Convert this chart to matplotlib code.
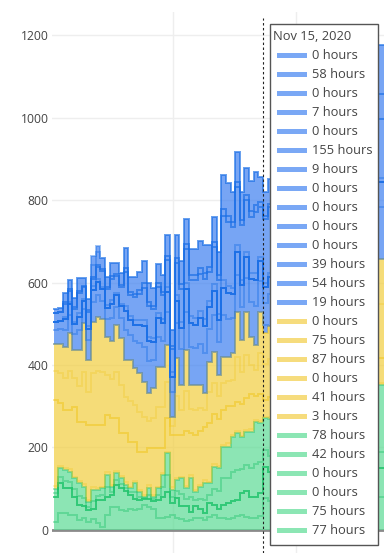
import numpy as np
import matplotlib
matplotlib.use("Agg")
import matplotlib.pyplot as plt
from matplotlib.patches import Rectangle

plt.rcParams['font.family'] = ['Open Sans', 'DejaVu Sans']

# ---------------- data (daily values, hours) ----------------
hover_index = 45
hover_label = "Nov 15, 2020"
y_ticks = [0, 200, 400, 600, 800, 1000, 1200]

# blue group (tooltip order, top of stack first)
b1 = [0,0,0,0,0,0,0,0,22,15, 0,0,0,0,0,0,0,0,0,0, 0,0,0,0,0,0,0,0,0,0, 0,0,0,0,0,0,0,0,0,0, 0,0,0,0,0,0,0,0,0,0, 0,0,0,0,0,0,0,0,0,0, 0,0,0,0,0,0,0,0,0,0, 0]
b2 = [10,10,22,22,22,30,18,26,28,30,26,24,32,26,28,48,36,40,44,54,48,42,46,40,50,38,56,56,60,62,62,66,68,54,62,56,84,80,74,72,68,66,72,80,62,58,
      60,66,58,72,64,70,76,68,74,80,72,84,78,86,82,90,86,94,88,96,92,100,96,120,120]
b3 = [0,0,0,0,0,0,0,0,0,0, 0,0,0,0,0,0,0,0,0,0, 0,0,0,0,0,0,0,0,0,0, 0,0,0,0,0,0,0,0,0,0, 0,0,0,0,0,0,0,0,0,0, 0,0,0,0,0,0,0,0,0,0, 0,0,0,0,0,0,0,0,0,0, 0]
b4 = [0,0,4,4,4,6,3,5,6,6,5,5,6,5,5,10,8,8,10,12,10,8,10,8,10,8,12,12,12,12,12,14,14,12,12,12,16,14,12,12,12,12,14,16,10,7,
      8,10,7,12,9,11,10,13,9,12,10,14,11,13,12,15,11,13,16,12,14,13,15,60,60]
b5 = [0,0,0,0,0,0,0,0,0,0, 0,0,0,0,0,0,0,0,0,0, 0,0,0,0,0,0,0,0,0,0, 0,0,0,0,0,0,0,0,0,0, 0,0,0,0,0,0,0,0,0,0, 0,0,0,0,0,0,0,0,0,0, 0,0,0,0,0,0,0,0,0,0, 0]
b6 = [21,21,32,27,32,49,29,35,17,28,38,39,52,41,41,81,51,57,61,77,73,70,64,59,67,57,78,80,81,89,93,89,97,71,89,82,155,155,147,141,133,125,136,148,121,155,
      160,170,150,180,165,175,185,170,190,180,200,185,205,195,210,200,190,215,205,220,200,215,210,143,143]
b7 = [0,0,5,6,5,8,4,6,8,8,6,6,8,6,6,12,10,10,12,14,12,10,12,10,12,10,14,14,16,16,16,18,18,14,16,14,20,18,16,16,14,14,16,18,12,9,
      10,12,9,14,11,13,10,12,15,11,14,12,16,13,15,12,14,16,13,15,11,14,12,10,10]
b8 = [0,0,0,0,0,0,0,0,0,0, 0,0,0,0,0,0,0,0,0,0, 0,0,0,0,0,0,0,0,0,0, 0,0,0,0,0,0,0,0,0,0, 0,0,0,0,0,0,0,0,0,0, 0,0,0,0,0,0,0,0,0,0, 0,0,0,0,0,0,0,0,0,0, 0]
b9 = [0,0,0,0,0,0,0,0,0,0, 0,0,0,0,0,0,0,0,0,0, 0,0,0,0,0,0,0,0,0,0, 0,0,0,0,0,0,0,0,0,0, 0,0,0,0,0,0,0,0,0,0, 0,0,0,0,0,0,0,0,0,0, 0,0,0,0,0,0,0,0,0,0, 0]
b10 = [0,0,0,0,0,0,0,0,0,0, 0,0,0,0,0,0,0,0,0,0, 0,0,0,0,0,0,0,0,0,0, 0,0,0,0,0,0,0,0,0,0, 0,0,0,0,0,0,0,0,0,0, 0,0,0,0,0,0,0,0,0,0, 0,0,0,0,0,0,0,0,0,0, 0]
b11 = [0,0,0,0,0,0,0,0,0,0, 0,0,0,0,0,0,0,0,0,0, 0,0,0,0,0,0,0,0,0,0, 0,0,0,0,0,0,0,0,0,0, 0,0,0,0,0,0,0,0,0,0, 0,0,0,0,0,0,0,0,0,0, 0,0,0,0,0,0,0,0,0,0, 0]
b12 = [21,20,26,26,25,32,20,28,30,32,28,28,34,28,30,46,36,40,44,52,48,44,46,42,48,38,52,52,56,58,58,62,64,52,58,54,66,62,58,56,52,50,56,62,48,39,
       42,46,40,50,44,48,52,46,54,50,56,52,58,54,60,56,62,58,64,60,66,62,58,60,60]
b13 = [33,36,42,44,38,49,34,48,48,52,45,42,56,44,48,74,60,66,74,84,77,68,72,64,80,60,86,86,92,92,88,100,98,80,90,80,100,92,84,90,80,82,84,96,74,54,
       76,84,70,90,80,90,92,90,92,92,92,104,94,104,104,104,108,108,112,114,116,118,120,126,126]
b14 = [0,0,0,0,0,0,0,0,0,0, 0,0,0,0,0,0,0,0,0,0, 0,0,0,0,0,0,0,0,0,0, 0,0,0,0,0,0,0,0,0,0, 0,0,0,0,0,19,0,0,0,0, 0,0,0,0,0,0,0,0,0,0, 0,0,0,0,0,0,0,0,0,0, 0]

# yellow group
y1 = [0,0,0,0,0,0,0,0,0,0, 0,0,0,0,0,0,0,0,0,0, 0,0,0,0,0,0,0,0,0,0, 0,0,0,0,0,0,0,0,0,0, 0,0,0,0,0,0,0,0,0,0, 0,0,0,0,0,0,0,0,0,0, 0,0,0,0,0,0,0,0,0,0, 0]
y2 = [66,71,75,91,68,86,120,77,124,132,128,94,94,114,114,89,99,89,95,84,67,73,98,98,89,22,93,60,98,59,60,56,40,74,76,52,64,60,65,109,78,105,68,61,99,75,
      80,84,76,90,86,92,82,88,96,90,100,94,88,102,96,106,98,104,112,100,108,104,114,110,110]
y3 = [70,72,78,95,70,88,120,80,126,130,128,96,94,112,116,88,100,90,96,86,66,72,98,98,88,22,94,62,98,58,62,56,42,74,76,54,66,60,64,110,78,104,70,62,100,87,
      92,98,88,104,96,110,100,94,108,115,102,112,120,106,118,112,124,116,110,126,120,128,118,130,130]
y4 = [0,0,0,0,0,0,0,0,0,0, 0,0,0,0,0,0,0,0,0,0, 0,0,0,0,0,0,0,0,0,0, 0,0,0,0,0,0,0,0,0,0, 0,0,0,0,0,0,0,0,0,0, 0,0,0,0,0,0,0,0,0,0, 0,0,0,0,0,0,0,0,0,0, 0]
y5 = [209,154,141,142,169,144,151,183,152,153,151,138,162,127,104,119,109,95,91,105,90,114,95,60,81,126,104,101,133,101,133,130,130,144,121,116,83,90,70,70,76,77,85,58,65,41,
      48,52,45,55,50,58,47,53,60,49,56,62,51,57,64,55,60,52,63,58,66,60,64,60,60]
y6 = [6,4,5,8,3,5,7,4,6,5,3,8,4,6,5,7,3,5,6,4,8,5,3,6,4,7,5,3,6,8,4,5,7,3,6,4,5,8,4,6,3,5,7,4,6,3,
      5,4,7,3,6,5,8,4,6,3,5,7,4,6,5,3,8,4,6,5,7,4,6,5,5]

# green group
g1 = [11,22,26,24,27,31,27,12,27,14,16,30,12,17,15,8,10,22,11,2,15,6,16,30,53,18,26,39,26,47,21,31,41,28,53,55,77,75,86,89,77,81,87,102,95,78,
      90,96,104,92,100,94,108,98,92,104,100,110,96,102,108,98,104,110,100,112,104,106,110,162,162]
g2 = [8,15,18,16,18,22,20,8,20,10,12,22,8,12,10,6,6,16,8,2,10,4,12,22,40,14,18,30,18,35,15,24,32,20,40,45,65,62,70,72,60,62,70,80,75,42,
      40,44,38,46,42,48,40,45,50,44,46,42,48,52,45,50,47,44,49,42,46,50,44,40,40]
g3 = [0,0,0,0,0,0,0,0,0,0, 0,0,0,0,0,0,0,0,0,0, 0,0,0,0,0,0,0,0,0,0, 0,0,0,0,0,0,0,0,0,0, 0,0,0,0,0,0,0,0,0,0, 0,0,0,0,0,0,0,0,0,0, 0,0,0,0,0,0,0,0,0,0, 0]
g4 = [0,0,0,0,0,0,0,0,0,0, 0,0,0,0,0,0,0,0,0,0, 0,0,0,0,0,0,0,0,0,0, 0,0,0,0,0,0,0,0,0,0, 0,0,0,0,0,0,0,0,0,0, 0,0,0,0,0,0,0,0,0,0, 0,0,0,0,0,0,0,0,0,0, 0]
g5 = [62,72,60,65,45,36,29,29,24,57,65,45,30,54,53,50,35,27,21,16,21,20,43,53,61,29,47,31,35,20,27,22,16,33,24,20,32,39,40,39,53,63,53,51,55,75,
      70,66,62,70,64,58,66,60,68,62,56,64,70,60,58,66,62,68,64,60,66,62,70,70,70]
g6 = [19,41,41,36,36,24,28,19,26,16,8,36,55,55,48,45,50,48,52,60,55,50,30,28,32,36,30,26,22,24,30,28,24,32,36,30,28,26,30,34,36,32,28,30,34,77,
      70,65,72,60,68,75,62,70,66,74,80,72,68,76,82,70,78,74,80,85,78,82,76,80,80]

blue_series = [b1, b2, b3, b4, b5, b6, b7, b8, b9, b10, b11, b12, b13, b14]
yellow_series = [y1, y2, y3, y4, y5, y6]
green_series = [g1, g2, g3, g4, g5, g6]

# ---------------- styles ----------------
STY = {
    'blue':   dict(fill='#3d7ff0', line='#1a6fe6', swatch='#7aa8f5', alpha=0.42),
    'yellow': dict(fill='#f2ce3f', line='#f0c000', swatch='#f6dc7d', alpha=0.22),
    'green':  dict(fill='#5bdb94', line='#12c062', swatch='#8ce6b4', alpha=0.36),
}
TXT = '#444444'
W, H = 384, 553

fig = plt.figure(figsize=(W / 100, H / 100), dpi=100)
ax = fig.add_axes([52 / W, 0, 332 / W, 541 / H])
ax.set_xlim(-0.376, 71.0)
ax.set_ylim(-55.8, 1255.8)

# stack from bottom: green (reversed), yellow (reversed), blue (reversed)
stack = ([('green', s) for s in green_series[::-1]] +
         [('yellow', s) for s in yellow_series[::-1]] +
         [('blue', s) for s in blue_series[::-1]])

n = len(g1)
x = np.arange(n + 1)
base = np.zeros(n + 1)
tops = []
for grp, s in stack:
    v = np.asarray(s, dtype=float)
    v = np.append(v, v[-1])
    top = base + v
    ax.fill_between(x, base, top, step='post', facecolor=STY[grp]['fill'],
                    alpha=0.7, linewidth=0, zorder=2)
    tops.append((grp, top.copy()))
    base = top
for grp, top in tops:
    ax.step(x, top, where='post', color=STY[grp]['line'], alpha=STY[grp]['alpha'],
            lw=1.4, zorder=3, solid_joinstyle='miter')

# grid & zero line
ax.set_yticks(y_ticks)
ax.set_xticks([25.6, 52.1])
ax.set_xticklabels([])
ax.grid(True, color='#eeeeee', lw=1, zorder=0)
ax.set_axisbelow(True)
ax.axhline(0, color='#8a8a8a', lw=2, zorder=1.5)
for sp in ax.spines.values():
    sp.set_visible(False)
ax.tick_params(axis='both', length=0)
ax.tick_params(axis='y', pad=2.5, labelsize=8.7, labelcolor=TXT)

# spike line
ax.plot([hover_index, hover_index], [-55.8, 1241], color='#222222', lw=0.8,
        linestyle=(0, (2.2, 2.2)), zorder=5, clip_on=False)

# unified hover tooltip
def fx(px):
    return px / W

def fy(py):
    return 1 - py / H

fig.add_artist(Rectangle((fx(270), fy(545)), 108 / W, (545 - 24) / H,
                         transform=fig.transFigure, facecolor='white',
                         edgecolor='#555555', lw=1, zorder=10))
fig.text(fx(273), fy(36), hover_label, ha='left', va='center',
         fontsize=9.3, color=TXT, zorder=11)
items = ([('blue', s) for s in blue_series] + [('yellow', s) for s in yellow_series]
         + [('green', s) for s in green_series])
for i, (grp, s) in enumerate(items):
    yc = 55.5 + 19 * i
    fig.add_artist(Rectangle((fx(276.5), fy(yc + 2.4)), 30 / W, 4.8 / H,
                             transform=fig.transFigure, facecolor=STY[grp]['swatch'],
                             edgecolor='none', zorder=11))
    fig.text(fx(312), fy(yc), f"{int(s[hover_index])} hours", ha='left', va='center',
             fontsize=9.3, color=TXT, zorder=11)

fig.savefig('out.png', dpi=100)
